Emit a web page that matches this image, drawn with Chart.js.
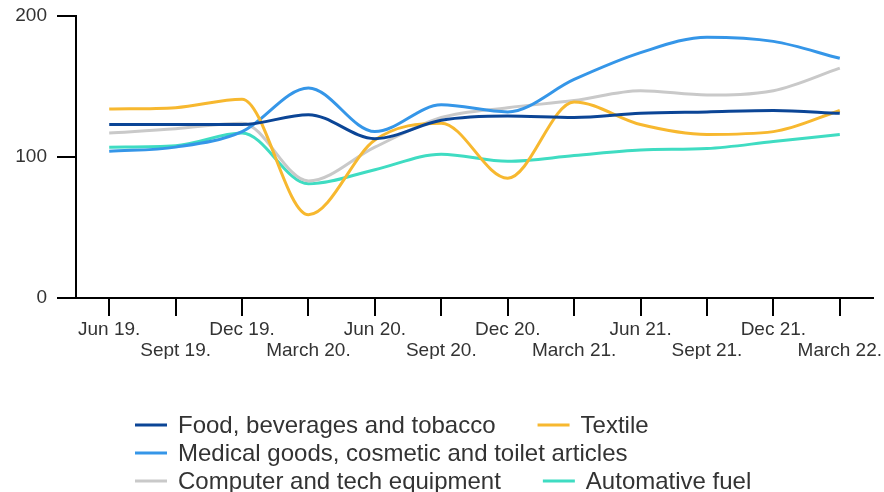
<!DOCTYPE html>
<html>
<head>
<meta charset="utf-8">
<title>Retail index</title>
<script src="https://cdn.jsdelivr.net/npm/chart.js@4.4.1/dist/chart.umd.min.js"></script>
<style>
    body { margin: 0; background: #fff; }
</style>
</head>
<body>
<canvas id="chart" width="884" height="492"></canvas>
<script>
const LABELS = ['Jun 19.', 'Sept 19.', 'Dec 19.', 'March 20.', 'Jun 20.', 'Sept 20.', 'Dec 20.', 'March 21.', 'Jun 21.', 'Sept 21.', 'Dec 21.', 'March 22.']

const FOOD = [123, 123, 123, 130, 113, 126, 129, 128, 131, 132, 133, 131]
const TEXTILE = [134, 135, 141, 59, 112, 124, 85, 139, 123, 116, 118, 133]
const MEDICAL = [104, 107, 118, 149, 118, 137, 132, 155, 174, 185, 182, 170]
const COMPUTER = [117, 120, 124, 83, 107, 128, 135, 140, 147, 144, 147, 163]
const FUEL = [107, 108, 117, 81, 91, 102, 97, 101, 105, 106, 111, 116]

const Y_TICKS = [0, 100, 200]

const FONT = '"Liberation Sans", Arial, sans-serif'
const TEXT_COLOR = '#333'

function series(label, data, color) {
    return {
        label: label,
        data: data,
        borderColor: color,
        backgroundColor: color,
        borderWidth: 3,
        pointRadius: 0,
        pointHoverRadius: 0,
        cubicInterpolationMode: 'monotone',
        fill: false
    }
}

// legend drawn as a flowing row list, left aligned under the plot
const flowLegend = {
    id: 'flowLegend',
    afterDraw(chart) {
        const ctx = chart.ctx
        const startX = 135
        let x = startX
        let y = 425
        ctx.save()
        ctx.font = '24px ' + FONT
        ctx.textBaseline = 'middle'
        ctx.textAlign = 'left'
        chart.data.datasets.forEach((ds, i) => {
            const w = 32 + 11 + ctx.measureText(ds.label).width
            if (x > startX && x + w > chart.width) {
                x = startX
                y += 28
            }
            ctx.strokeStyle = ds.borderColor
            ctx.lineWidth = 3
            ctx.beginPath()
            ctx.moveTo(x, y)
            ctx.lineTo(x + 32, y)
            ctx.stroke()
            ctx.fillStyle = TEXT_COLOR
            ctx.fillText(ds.label, x + 43, y + 1)
            x += w + 42
        })
        ctx.restore()
    }
}

new Chart(document.getElementById('chart'), {
    type: 'line',
    data: {
        labels: LABELS,
        datasets: [
            series('Food, beverages and tobacco', FOOD, '#0b4596'),
            series('Textile', TEXTILE, '#f7b82f'),
            series('Medical goods, cosmetic and toilet articles', MEDICAL, '#3596e8'),
            series('Computer and tech equipment', COMPUTER, '#c9c9c9'),
            series('Automative fuel', FUEL, '#3fdcc2')
        ]
    },
    options: {
        responsive: false,
        animation: false,
        layout: {
            padding: { left: 15, right: 11, top: 16, bottom: 133 }
        },
        plugins: {
            legend: { display: false },
            tooltip: { enabled: false }
        },
        scales: {
            x: {
                offset: true,
                border: { display: true, color: '#000', width: 2 },
                grid: {
                    offset: false,
                    drawOnChartArea: false,
                    drawTicks: true,
                    tickLength: 18,
                    color: '#000',
                    lineWidth: 2
                },
                ticks: {
                    autoSkip: false,
                    maxRotation: 0,
                    minRotation: 0,
                    padding: 3,
                    color: TEXT_COLOR,
                    font: { family: FONT, size: 19, lineHeight: 1.1 },
                    callback: function (value, index) {
                        return index % 2 ? ['', LABELS[index]] : LABELS[index]
                    }
                },
                afterFit: function (scale) {
                    scale.height = 61
                    scale.paddingLeft = 0
                    scale.paddingRight = 0
                }
            },
            y: {
                min: Y_TICKS[0],
                max: Y_TICKS[Y_TICKS.length - 1],
                afterBuildTicks: function (axis) {
                    axis.ticks = Y_TICKS.map(v => ({ value: v }))
                },
                border: { display: true, color: '#000', width: 2 },
                grid: {
                    drawOnChartArea: false,
                    drawTicks: true,
                    tickLength: 19,
                    color: '#000',
                    lineWidth: 2
                },
                ticks: {
                    padding: 10,
                    color: TEXT_COLOR,
                    font: { family: FONT, size: 19 }
                },
                afterFit: function (scale) {
                    scale.width = 61
                    scale.paddingTop = 0
                    scale.paddingBottom = 0
                }
            }
        }
    },
    plugins: [flowLegend]
});
</script>
</body>
</html>
